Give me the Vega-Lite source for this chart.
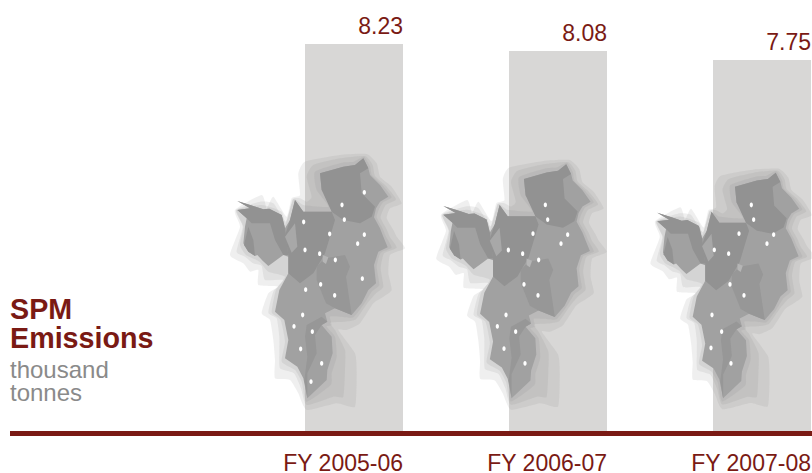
{"$schema":"https://vega.github.io/schema/vega-lite/v6.json","width":812,"height":473,"padding":0,"autosize":{"type":"none"},"background":"white","config":{"view":{"stroke":null},"font":"Liberation Sans"},
"datasets":{
"years":[{"fy":"FY 2005-06","spm":8.23},{"fy":"FY 2006-07","spm":8.08},{"fy":"FY 2007-08","spm":7.75}],
"dots":[
{"fy":"FY 2005-06","u":433,"v":157},{"fy":"FY 2005-06","u":366,"v":195},{"fy":"FY 2005-06","u":373,"v":239},{"fy":"FY 2005-06","u":251,"v":246},{"fy":"FY 2005-06","u":329,"v":282},{"fy":"FY 2005-06","u":433,"v":284},{"fy":"FY 2005-06","u":413,"v":311},{"fy":"FY 2005-06","u":255,"v":330},{"fy":"FY 2005-06","u":299,"v":341},{"fy":"FY 2005-06","u":346,"v":360},{"fy":"FY 2005-06","u":427,"v":416},{"fy":"FY 2005-06","u":302,"v":433},{"fy":"FY 2005-06","u":257,"v":449},{"fy":"FY 2005-06","u":344,"v":466},{"fy":"FY 2005-06","u":248,"v":525},{"fy":"FY 2005-06","u":222,"v":559},{"fy":"FY 2005-06","u":277,"v":575},{"fy":"FY 2005-06","u":242,"v":627},{"fy":"FY 2005-06","u":305,"v":670},{"fy":"FY 2005-06","u":273,"v":725},
{"fy":"FY 2006-07","u":365.8,"v":180.1},{"fy":"FY 2006-07","u":373,"v":225.3},{"fy":"FY 2006-07","u":327.8,"v":268.3},{"fy":"FY 2006-07","u":434.5,"v":271.4},{"fy":"FY 2006-07","u":414,"v":299.1},{"fy":"FY 2006-07","u":252,"v":318.6},{"fy":"FY 2006-07","u":296,"v":329.9},{"fy":"FY 2006-07","u":345.3,"v":349.4},{"fy":"FY 2006-07","u":300.1,"v":424.2},{"fy":"FY 2006-07","u":343.2,"v":458.1},{"fy":"FY 2006-07","u":244.8,"v":518.6},{"fy":"FY 2006-07","u":218.1,"v":553.5},{"fy":"FY 2006-07","u":274.5,"v":569.8},{"fy":"FY 2006-07","u":238.6,"v":622.2},{"fy":"FY 2006-07","u":303.2,"v":667.3},
{"fy":"FY 2007-08","u":352.1,"v":158},{"fy":"FY 2007-08","u":359.6,"v":204.8},{"fy":"FY 2007-08","u":312.8,"v":249.5},{"fy":"FY 2007-08","u":423.4,"v":252.7},{"fy":"FY 2007-08","u":402.1,"v":281.4},{"fy":"FY 2007-08","u":234,"v":301.6},{"fy":"FY 2007-08","u":279.8,"v":313.3},{"fy":"FY 2007-08","u":284,"v":411.2},{"fy":"FY 2007-08","u":328.7,"v":446.3},{"fy":"FY 2007-08","u":226.6,"v":509.1},{"fy":"FY 2007-08","u":257.4,"v":562.3},{"fy":"FY 2007-08","u":223.4,"v":614.4},{"fy":"FY 2007-08","u":287.2,"v":663.3}],
"halos":[
{"p":"h1","i":1,"u":440,"v":42},{"p":"h1","i":2,"u":470,"v":70},{"p":"h1","i":3,"u":480,"v":110},{"p":"h1","i":4,"u":515,"v":140},{"p":"h1","i":5,"u":545,"v":190},{"p":"h1","i":6,"u":510,"v":205},{"p":"h1","i":7,"u":500,"v":235},{"p":"h1","i":8,"u":520,"v":270},{"p":"h1","i":9,"u":530,"v":290},{"p":"h1","i":10,"u":555,"v":325},{"p":"h1","i":11,"u":510,"v":345},{"p":"h1","i":12,"u":505,"v":400},{"p":"h1","i":13,"u":515,"v":450},{"p":"h1","i":14,"u":490,"v":470},{"p":"h1","i":15,"u":460,"v":490},{"p":"h1","i":16,"u":420,"v":550},{"p":"h1","i":17,"u":380,"v":570},{"p":"h1","i":18,"u":355,"v":570},{"p":"h1","i":19,"u":405,"v":640},{"p":"h1","i":20,"u":410,"v":700},{"p":"h1","i":21,"u":405,"v":800},{"p":"h1","i":22,"u":350,"v":790},{"p":"h1","i":23,"u":260,"v":810},{"p":"h1","i":24,"u":235,"v":760},{"p":"h1","i":25,"u":210,"v":720},{"p":"h1","i":26,"u":165,"v":715},{"p":"h1","i":27,"u":165,"v":660},{"p":"h1","i":28,"u":160,"v":600},{"p":"h1","i":29,"u":150,"v":540},{"p":"h1","i":30,"u":125,"v":520},{"p":"h1","i":31,"u":145,"v":460},{"p":"h1","i":32,"u":175,"v":440},{"p":"h1","i":33,"u":115,"v":435},{"p":"h1","i":34,"u":115,"v":390},{"p":"h1","i":35,"u":90,"v":395},{"p":"h1","i":36,"u":70,"v":370},{"p":"h1","i":37,"u":30,"v":345},{"p":"h1","i":38,"u":60,"v":260},{"p":"h1","i":39,"u":45,"v":210},{"p":"h1","i":40,"u":125,"v":165},{"p":"h1","i":41,"u":140,"v":205},{"p":"h1","i":42,"u":160,"v":170},{"p":"h1","i":43,"u":200,"v":230},{"p":"h1","i":44,"u":215,"v":175},{"p":"h1","i":45,"u":240,"v":165},{"p":"h1","i":46,"u":235,"v":100},{"p":"h1","i":47,"u":255,"v":65},{"p":"h1","i":48,"u":360,"v":45},
{"p":"h2","i":1,"u":435,"v":48},{"p":"h2","i":2,"u":458,"v":75},{"p":"h2","i":3,"u":465,"v":108},{"p":"h2","i":4,"u":498,"v":138},{"p":"h2","i":5,"u":528,"v":178},{"p":"h2","i":6,"u":497,"v":195},{"p":"h2","i":7,"u":485,"v":220},{"p":"h2","i":8,"u":482,"v":235},{"p":"h2","i":9,"u":500,"v":268},{"p":"h2","i":10,"u":510,"v":292},{"p":"h2","i":11,"u":530,"v":323},{"p":"h2","i":12,"u":492,"v":340},{"p":"h2","i":13,"u":482,"v":385},{"p":"h2","i":14,"u":490,"v":440},{"p":"h2","i":15,"u":468,"v":460},{"p":"h2","i":16,"u":442,"v":490},{"p":"h2","i":17,"u":408,"v":538},{"p":"h2","i":18,"u":375,"v":545},{"p":"h2","i":19,"u":330,"v":548},{"p":"h2","i":20,"u":345,"v":570},{"p":"h2","i":21,"u":375,"v":630},{"p":"h2","i":22,"u":375,"v":690},{"p":"h2","i":23,"u":370,"v":770},{"p":"h2","i":24,"u":340,"v":770},{"p":"h2","i":25,"u":260,"v":795},{"p":"h2","i":26,"u":243,"v":745},{"p":"h2","i":27,"u":222,"v":700},{"p":"h2","i":28,"u":180,"v":685},{"p":"h2","i":29,"u":178,"v":640},{"p":"h2","i":30,"u":178,"v":590},{"p":"h2","i":31,"u":170,"v":535},{"p":"h2","i":32,"u":145,"v":518},{"p":"h2","i":33,"u":160,"v":455},{"p":"h2","i":34,"u":190,"v":420},{"p":"h2","i":35,"u":135,"v":420},{"p":"h2","i":36,"u":125,"v":378},{"p":"h2","i":37,"u":100,"v":370},{"p":"h2","i":38,"u":75,"v":350},{"p":"h2","i":39,"u":50,"v":335},{"p":"h2","i":40,"u":68,"v":260},{"p":"h2","i":41,"u":48,"v":210},{"p":"h2","i":42,"u":120,"v":185},{"p":"h2","i":43,"u":160,"v":190},{"p":"h2","i":44,"u":198,"v":245},{"p":"h2","i":45,"u":218,"v":178},{"p":"h2","i":46,"u":240,"v":175},{"p":"h2","i":47,"u":260,"v":185},{"p":"h2","i":48,"u":275,"v":170},{"p":"h2","i":49,"u":260,"v":110},{"p":"h2","i":50,"u":280,"v":75},{"p":"h2","i":51,"u":360,"v":55},
{"p":"h3","i":1,"u":432,"v":50},{"p":"h3","i":2,"u":450,"v":78},{"p":"h3","i":3,"u":456,"v":106},{"p":"h3","i":4,"u":488,"v":136},{"p":"h3","i":5,"u":515,"v":172},{"p":"h3","i":6,"u":488,"v":188},{"p":"h3","i":7,"u":476,"v":210},{"p":"h3","i":8,"u":470,"v":232},{"p":"h3","i":9,"u":488,"v":266},{"p":"h3","i":10,"u":498,"v":290},{"p":"h3","i":11,"u":515,"v":323},{"p":"h3","i":12,"u":482,"v":338},{"p":"h3","i":13,"u":470,"v":380},{"p":"h3","i":14,"u":478,"v":435},{"p":"h3","i":15,"u":455,"v":455},{"p":"h3","i":16,"u":432,"v":492},{"p":"h3","i":17,"u":400,"v":532},{"p":"h3","i":18,"u":360,"v":530},{"p":"h3","i":19,"u":330,"v":530},{"p":"h3","i":20,"u":335,"v":555},{"p":"h3","i":21,"u":320,"v":560},{"p":"h3","i":22,"u":345,"v":590},{"p":"h3","i":23,"u":350,"v":650},{"p":"h3","i":24,"u":335,"v":700},{"p":"h3","i":25,"u":332,"v":735},{"p":"h3","i":26,"u":260,"v":785},{"p":"h3","i":27,"u":245,"v":725},{"p":"h3","i":28,"u":225,"v":690},{"p":"h3","i":29,"u":185,"v":665},{"p":"h3","i":30,"u":195,"v":605},{"p":"h3","i":31,"u":182,"v":540},{"p":"h3","i":32,"u":155,"v":517},{"p":"h3","i":33,"u":168,"v":450},{"p":"h3","i":34,"u":195,"v":410},{"p":"h3","i":35,"u":145,"v":395},{"p":"h3","i":36,"u":122,"v":368},{"p":"h3","i":37,"u":105,"v":358},{"p":"h3","i":38,"u":78,"v":345},{"p":"h3","i":39,"u":60,"v":315},{"p":"h3","i":40,"u":70,"v":260},{"p":"h3","i":41,"u":50,"v":210},{"p":"h3","i":42,"u":125,"v":195},{"p":"h3","i":43,"u":185,"v":215},{"p":"h3","i":44,"u":196,"v":255},{"p":"h3","i":45,"u":220,"v":178},{"p":"h3","i":46,"u":250,"v":195},{"p":"h3","i":47,"u":325,"v":200},{"p":"h3","i":48,"u":290,"v":150},{"p":"h3","i":49,"u":285,"v":95},{"p":"h3","i":50,"u":365,"v":68},{"p":"h3","i":51,"u":400,"v":65}],
"regions":[
{"p":"body","i":1,"u":430,"v":55},{"p":"body","i":2,"u":445,"v":85},{"p":"body","i":3,"u":450,"v":105},{"p":"body","i":4,"u":480,"v":135},{"p":"body","i":5,"u":505,"v":170},{"p":"body","i":6,"u":480,"v":185},{"p":"body","i":7,"u":468,"v":205},{"p":"body","i":8,"u":462,"v":232},{"p":"body","i":9,"u":480,"v":265},{"p":"body","i":10,"u":490,"v":290},{"p":"body","i":11,"u":503,"v":322},{"p":"body","i":12,"u":475,"v":335},{"p":"body","i":13,"u":462,"v":375},{"p":"body","i":14,"u":468,"v":430},{"p":"body","i":15,"u":445,"v":450},{"p":"body","i":16,"u":425,"v":490},{"p":"body","i":17,"u":395,"v":525},{"p":"body","i":18,"u":345,"v":505},{"p":"body","i":19,"u":315,"v":520},{"p":"body","i":20,"u":322,"v":545},{"p":"body","i":21,"u":305,"v":555},{"p":"body","i":22,"u":335,"v":590},{"p":"body","i":23,"u":338,"v":640},{"p":"body","i":24,"u":322,"v":690},{"p":"body","i":25,"u":320,"v":720},{"p":"body","i":26,"u":262,"v":775},{"p":"body","i":27,"u":250,"v":715},{"p":"body","i":28,"u":232,"v":680},{"p":"body","i":29,"u":195,"v":655},{"p":"body","i":30,"u":205,"v":600},{"p":"body","i":31,"u":193,"v":540},{"p":"body","i":32,"u":165,"v":515},{"p":"body","i":33,"u":178,"v":450},{"p":"body","i":34,"u":205,"v":400},{"p":"body","i":35,"u":205,"v":350},{"p":"body","i":36,"u":190,"v":345},{"p":"body","i":37,"u":145,"v":378},{"p":"body","i":38,"u":128,"v":362},{"p":"body","i":39,"u":112,"v":345},{"p":"body","i":40,"u":105,"v":348},{"p":"body","i":41,"u":85,"v":335},{"p":"body","i":42,"u":70,"v":310},{"p":"body","i":43,"u":75,"v":260},{"p":"body","i":44,"u":80,"v":235},{"p":"body","i":45,"u":52,"v":210},{"p":"body","i":46,"u":90,"v":205},{"p":"body","i":47,"u":52,"v":183},{"p":"body","i":48,"u":100,"v":198},{"p":"body","i":49,"u":130,"v":208},{"p":"body","i":50,"u":148,"v":206},{"p":"body","i":51,"u":185,"v":225},{"p":"body","i":52,"u":195,"v":265},{"p":"body","i":53,"u":210,"v":240},{"p":"body","i":54,"u":225,"v":180},{"p":"body","i":55,"u":250,"v":215},{"p":"body","i":56,"u":335,"v":215},{"p":"body","i":57,"u":340,"v":190},{"p":"body","i":58,"u":305,"v":150},{"p":"body","i":59,"u":300,"v":100},{"p":"body","i":60,"u":370,"v":80},{"p":"body","i":61,"u":405,"v":75},
{"p":"ne","i":1,"u":300,"v":100},{"p":"ne","i":2,"u":370,"v":80},{"p":"ne","i":3,"u":405,"v":75},{"p":"ne","i":4,"u":430,"v":55},{"p":"ne","i":5,"u":445,"v":85},{"p":"ne","i":6,"u":420,"v":100},{"p":"ne","i":7,"u":425,"v":160},{"p":"ne","i":8,"u":465,"v":200},{"p":"ne","i":9,"u":455,"v":230},{"p":"ne","i":10,"u":420,"v":250},{"p":"ne","i":11,"u":370,"v":240},{"p":"ne","i":12,"u":335,"v":215},{"p":"ne","i":13,"u":305,"v":150},
{"p":"center","i":1,"u":225,"v":180},{"p":"center","i":2,"u":250,"v":215},{"p":"center","i":3,"u":335,"v":215},{"p":"center","i":4,"u":345,"v":240},{"p":"center","i":5,"u":330,"v":290},{"p":"center","i":6,"u":315,"v":340},{"p":"center","i":7,"u":280,"v":400},{"p":"center","i":8,"u":240,"v":430},{"p":"center","i":9,"u":205,"v":400},{"p":"center","i":10,"u":205,"v":345},{"p":"center","i":11,"u":195,"v":285},{"p":"center","i":12,"u":210,"v":240},
{"p":"west","i":1,"u":52,"v":210},{"p":"west","i":2,"u":90,"v":205},{"p":"west","i":3,"u":52,"v":183},{"p":"west","i":4,"u":100,"v":198},{"p":"west","i":5,"u":130,"v":208},{"p":"west","i":6,"u":148,"v":206},{"p":"west","i":7,"u":185,"v":225},{"p":"west","i":8,"u":195,"v":265},{"p":"west","i":9,"u":205,"v":345},{"p":"west","i":10,"u":190,"v":345},{"p":"west","i":11,"u":165,"v":300},{"p":"west","i":12,"u":150,"v":250},{"p":"west","i":13,"u":115,"v":250},{"p":"west","i":14,"u":95,"v":250},{"p":"west","i":15,"u":80,"v":235},
{"p":"west2","i":1,"u":85,"v":260},{"p":"west2","i":2,"u":100,"v":300},{"p":"west2","i":3,"u":105,"v":348},{"p":"west2","i":4,"u":85,"v":335},{"p":"west2","i":5,"u":72,"v":315},
{"p":"se","i":1,"u":290,"v":380},{"p":"se","i":2,"u":315,"v":355},{"p":"se","i":3,"u":375,"v":345},{"p":"se","i":4,"u":390,"v":380},{"p":"se","i":5,"u":378,"v":410},{"p":"se","i":6,"u":395,"v":525},{"p":"se","i":7,"u":345,"v":505},{"p":"se","i":8,"u":318,"v":490},{"p":"se","i":9,"u":290,"v":420},
{"p":"south","i":1,"u":260,"v":555},{"p":"south","i":2,"u":305,"v":530},{"p":"south","i":3,"u":322,"v":545},{"p":"south","i":4,"u":305,"v":555},{"p":"south","i":5,"u":285,"v":585},{"p":"south","i":6,"u":290,"v":640},{"p":"south","i":7,"u":262,"v":700},{"p":"south","i":8,"u":262,"v":775},{"p":"south","i":9,"u":253,"v":720},{"p":"south","i":10,"u":262,"v":650},{"p":"south","i":11,"u":255,"v":590},
{"p":"patch","i":1,"u":195,"v":290},{"p":"patch","i":2,"u":225,"v":250},{"p":"patch","i":3,"u":232,"v":320},{"p":"patch","i":4,"u":215,"v":338},
{"p":"lake","i":1,"u":308,"v":345},{"p":"lake","i":2,"u":325,"v":352},{"p":"lake","i":3,"u":318,"v":372},{"p":"lake","i":4,"u":308,"v":365}
]},
"layer":[
{"data":{"name":"years"},"layer":[
{"mark":{"type":"bar","color":"#d8d7d6"},"encoding":{
"x":{"field":"fy","type":"nominal","title":null,"sort":null,"scale":{"type":"band","domain":["FY 2005-06","FY 2006-07","FY 2007-08"],"range":[305,811],"paddingInner":0.5196,"paddingOuter":0},"axis":{"orient":"bottom","offset":-43,"domain":false,"ticks":false,"grid":false,"labelAngle":0,"labelAlign":"right","labelOffset":49,"labelPadding":22,"labelFontSize":23,"labelColor":"#7a1a14","labelFont":"Liberation Sans","labelBound":false,"labelOverlap":false}},
"y":{"field":"spm","type":"quantitative","title":null,"axis":null,"scale":{"domain":[0,7.75,8.08,8.23],"range":[431,60,51,44],"nice":false,"zero":false}}}},
{"mark":{"type":"text","align":"right","baseline":"alphabetic","dy":-10,"fontSize":23,"color":"#7a1a14","font":"Liberation Sans"},"encoding":{
"x":{"field":"fy","type":"nominal","bandPosition":1},
"y":{"field":"spm","type":"quantitative"},
"text":{"field":"spm","type":"quantitative","format":".2f"}}}
]},
{"layer":[
{"data":{"name":"halos"},"mark":{"type":"line","interpolate":"cardinal-closed","tension":0.5,"strokeWidth":0,"fill":"#808080","fillOpacity":0.13},"encoding":{"x":{"field":"u","type":"quantitative","axis":null,"scale":{"domain":[-660,1776],"nice":false,"zero":false}},"y":{"field":"v","type":"quantitative","axis":null,"scale":{"domain":[999,-420],"nice":false,"zero":false}},"order":{"field":"i","type":"quantitative"},"detail":{"field":"p"}}},
{"data":{"name":"regions"},"mark":{"type":"line","interpolate":"linear-closed","strokeWidth":0,"fillOpacity":1},"encoding":{"x":{"field":"u","type":"quantitative"},"y":{"field":"v","type":"quantitative"},"order":{"field":"i","type":"quantitative"},"detail":{"field":"p"},"fill":{"field":"p","legend":null,"sort":null,"scale":{"domain":["body","ne","center","west","west2","se","south","patch","lake"],"range":["#a1a1a1","#929292","#929292","#929292","#929292","#979797","#979797","#a8a8a8","#b5b5b5"]}}}},
{"data":{"name":"dots"},"transform":[{"filter":"datum.fy === 'FY 2005-06'"}],"mark":{"type":"point","filled":true,"color":"white","opacity":1,"size":23,"shape":"M0,-1C0.9,-1 0.9,1 0,1C-0.9,1 -0.9,-1 0,-1Z"},"encoding":{"x":{"field":"u","type":"quantitative"},"y":{"field":"v","type":"quantitative"}}}
]},
{"layer":[
{"data":{"name":"halos"},"mark":{"type":"line","interpolate":"cardinal-closed","tension":0.5,"strokeWidth":0,"fill":"#808080","fillOpacity":0.13},"encoding":{"x":{"field":"u","type":"quantitative","axis":null,"scale":{"domain":[-1312.2,1186.3],"nice":false,"zero":false}},"y":{"field":"v","type":"quantitative","axis":null,"scale":{"domain":[1004.8,-450.6],"nice":false,"zero":false}},"order":{"field":"i","type":"quantitative"},"detail":{"field":"p"}}},
{"data":{"name":"regions"},"mark":{"type":"line","interpolate":"linear-closed","strokeWidth":0,"fillOpacity":1},"encoding":{"x":{"field":"u","type":"quantitative"},"y":{"field":"v","type":"quantitative"},"order":{"field":"i","type":"quantitative"},"detail":{"field":"p"},"fill":{"field":"p","legend":null,"sort":null}}},
{"data":{"name":"dots"},"transform":[{"filter":"datum.fy === 'FY 2006-07'"}],"mark":{"type":"point","filled":true,"color":"white","opacity":1,"size":23,"shape":"M0,-1C0.9,-1 0.9,1 0,1C-0.9,1 -0.9,-1 0,-1Z"},"encoding":{"x":{"field":"u","type":"quantitative"},"y":{"field":"v","type":"quantitative"}}}
]},
{"layer":[
{"data":{"name":"halos"},"mark":{"type":"line","interpolate":"cardinal-closed","tension":0.5,"strokeWidth":0,"fill":"#808080","fillOpacity":0.13},"encoding":{"x":{"field":"u","type":"quantitative","axis":null,"scale":{"domain":[-2045.9,545.8],"nice":false,"zero":false}},"y":{"field":"v","type":"quantitative","axis":null,"scale":{"domain":[1013.4,-496.2],"nice":false,"zero":false}},"order":{"field":"i","type":"quantitative"},"detail":{"field":"p"}}},
{"data":{"name":"regions"},"mark":{"type":"line","interpolate":"linear-closed","strokeWidth":0,"fillOpacity":1},"encoding":{"x":{"field":"u","type":"quantitative"},"y":{"field":"v","type":"quantitative"},"order":{"field":"i","type":"quantitative"},"detail":{"field":"p"},"fill":{"field":"p","legend":null,"sort":null}}},
{"data":{"name":"dots"},"transform":[{"filter":"datum.fy === 'FY 2007-08'"}],"mark":{"type":"point","filled":true,"color":"white","opacity":1,"size":23,"shape":"M0,-1C0.9,-1 0.9,1 0,1C-0.9,1 -0.9,-1 0,-1Z"},"encoding":{"x":{"field":"u","type":"quantitative"},"y":{"field":"v","type":"quantitative"}}}
]},
{"data":{"values":[{"a":1}]},"mark":{"type":"rule","color":"#7a1a14","strokeWidth":5},"encoding":{"x":{"value":10},"x2":{"value":812},"y":{"value":433.5}}},
{"data":{"values":[{"a":1}]},"mark":{"type":"text","text":["SPM","Emissions"],"lineHeight":28.5,"align":"left","baseline":"alphabetic","fontSize":28.7,"fontWeight":"bold","color":"#7a1a14","font":"Liberation Sans"},"encoding":{"x":{"value":10},"y":{"value":319}}},
{"data":{"values":[{"a":1}]},"mark":{"type":"text","text":["thousand","tonnes"],"lineHeight":22.5,"align":"left","baseline":"alphabetic","fontSize":24,"color":"#8a8a8a","font":"Liberation Sans"},"encoding":{"x":{"value":10},"y":{"value":378}}}
],
"resolve":{"scale":{"x":"independent","y":"independent"},"axis":{"x":"independent","y":"independent"}}}
